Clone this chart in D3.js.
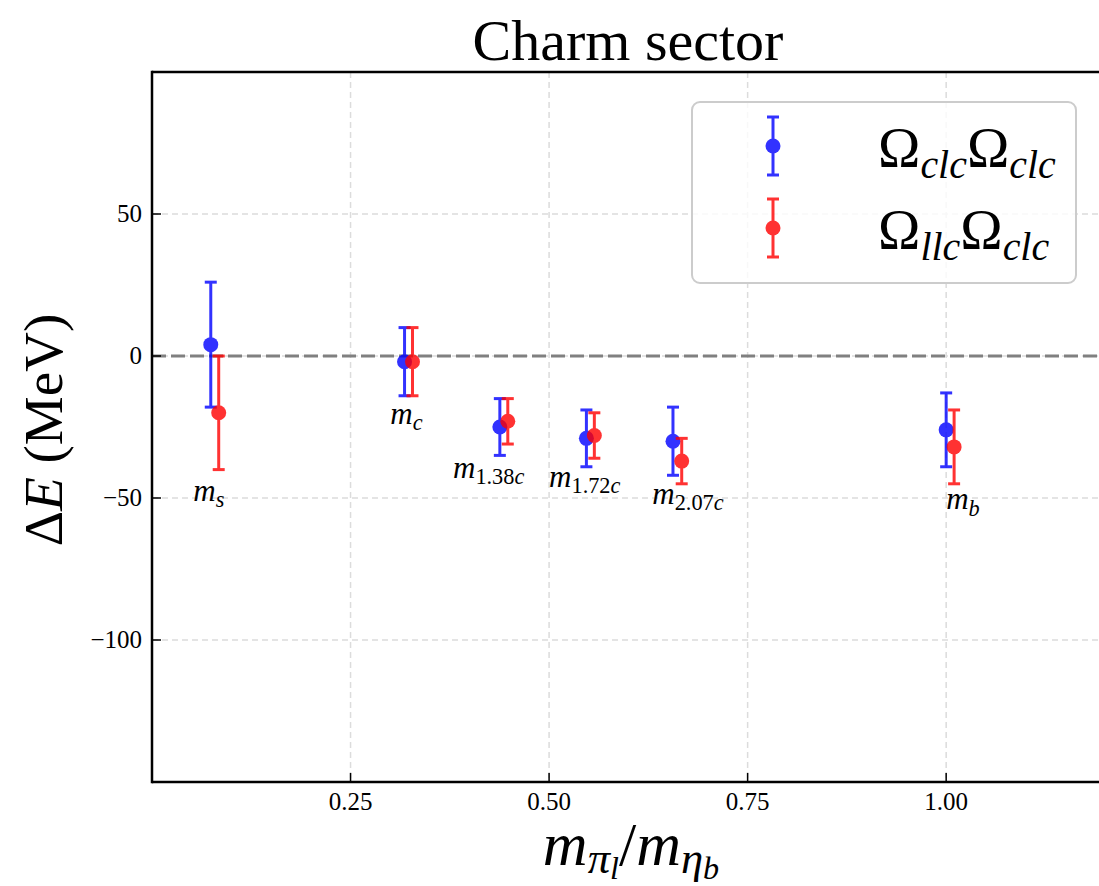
<!DOCTYPE html>
<html>
<head>
<meta charset="utf-8">
<script src="https://cdn.jsdelivr.net/npm/d3@7"></script>
<style>
  body { margin: 0; background: #fff; }
  svg text { font-family: "Liberation Serif", "DejaVu Serif", serif; fill: #000; }
</style>
</head>
<body>
<div id="chart"></div>
<script>
// Quark mass labels: numeric part (upright) and flavour letter (italic).
var massNum = ["", "", "1.38", "1.72", "2.07", ""];
var massFlavour = ["s", "c", "c", "c", "c", "b"];

// Omega_clc Omega_clc series (blue).
var xClc = [0.074, 0.318, 0.438, 0.547, 0.656, 1.000];
var yClc = [4, -2, -25, -29, -30, -26];
var eClc = [22, 12, 10, 10, 12, 13];

// Omega_llc Omega_clc series (red).
var xLlc = [0.084, 0.328, 0.448, 0.557, 0.667, 1.010];
var yLlc = [-20, -2, -23, -28, -37, -32];
var eLlc = [20, 12, 8, 8, 8, 13];

// Annotation anchors in data units.
var labelX = [0.052, 0.300, 0.379, 0.500, 0.630, 1.000];
var labelY = [-51, -24, -43, -46, -52, -54];

// Axis ticks.
var xTicks = [0.25, 0.50, 0.75, 1.00];
var yTicks = [50, 0, -50, -100];

(function() {
    var W = 1099, H = 886;
    var pL = 152, pT = 72, pR = 1105, pB = 782;

    var x = d3.scaleLinear().domain([0, 1.2]).range([pL, pR]);
    var y = d3.scaleLinear().domain([-150, 100]).range([pB, pT]);

    var svg = d3.select("#chart").append("svg")
        .attr("width", W)
        .attr("height", H);

    // Write a run of math-ish text: parts are [text, italic, level].
    var addMath = function(t, parts, size, subScale, drops) {
        var s1 = subScale || 0.7;
        var scale = [1, s1, s1 * 0.72];
        var drop = drops || [0, 0.2, 0.34];
        var cur = 0;
        parts.forEach(function(p) {
            var lvl = p[2] || 0;
            var off = drop[lvl] * size;
            t.append("tspan")
                .attr("dy", off - cur)
                .style("font-size", (size * scale[lvl]) + "px")
                .style("font-style", p[1] ? "italic" : "normal")
                .text(p[0]);
            cur = off;
        });
        return t;
    };

    // Grid.
    var grid = svg.append("g")
        .attr("stroke", "#dcdcdc")
        .attr("stroke-width", 1.5)
        .attr("stroke-dasharray", "6,4");
    grid.selectAll(".gx").data(xTicks).enter().append("line")
        .attr("x1", function(d) { return x(d); })
        .attr("x2", function(d) { return x(d); })
        .attr("y1", pT).attr("y2", pB);
    grid.selectAll(".gy").data(yTicks).enter().append("line")
        .attr("x1", pL).attr("x2", pR)
        .attr("y1", function(d) { return y(d); })
        .attr("y2", function(d) { return y(d); });

    // Zero reference line.
    svg.append("line")
        .attr("x1", pL).attr("x2", pR)
        .attr("y1", y(0)).attr("y2", y(0))
        .attr("stroke", "#808080")
        .attr("stroke-width", 3.2)
        .attr("stroke-dasharray", "14,5");

    // Error bar series.
    var drawSeries = function(xs, ys, es, color) {
        var g = svg.append("g").attr("opacity", 0.8);
        xs.forEach(function(xv, i) {
            var px = x(xv);
            var p = g.append("g");
            p.append("line")
                .attr("x1", px).attr("x2", px)
                .attr("y1", y(ys[i] + es[i])).attr("y2", y(ys[i] - es[i]))
                .attr("stroke", color).attr("stroke-width", 3);
            [ys[i] + es[i], ys[i] - es[i]].forEach(function(v) {
                p.append("line")
                    .attr("x1", px - 6).attr("x2", px + 6)
                    .attr("y1", y(v)).attr("y2", y(v))
                    .attr("stroke", color).attr("stroke-width", 3);
            });
            p.append("circle")
                .attr("cx", px).attr("cy", y(ys[i]))
                .attr("r", 7.5)
                .attr("fill", color);
        });
    };
    drawSeries(xClc, yClc, eClc, "#0000ff");
    drawSeries(xLlc, yLlc, eLlc, "#ff0000");

    // Mass annotations.
    massFlavour.forEach(function(f, i) {
        var t = svg.append("text")
            .attr("x", x(labelX[i]))
            .attr("y", y(labelY[i]));
        var parts = [["m", true, 0]];
        if (massNum[i]) parts.push([massNum[i], false, 1]);
        parts.push([f, true, 1]);
        addMath(t, parts, 31, 0.72);
    });

    // Spines.
    svg.append("line").attr("x1", pL).attr("x2", pL).attr("y1", pT - 1.2).attr("y2", pB + 1.2)
        .attr("stroke", "#000").attr("stroke-width", 2.5);
    svg.append("line").attr("x1", pL).attr("x2", pR).attr("y1", pB).attr("y2", pB)
        .attr("stroke", "#000").attr("stroke-width", 2.5);
    svg.append("line").attr("x1", pL).attr("x2", pR).attr("y1", pT).attr("y2", pT)
        .attr("stroke", "#000").attr("stroke-width", 2.5);

    // Ticks (inward) and tick labels.
    var fmtX = d3.format(".2f");
    xTicks.forEach(function(d) {
        svg.append("line").attr("x1", x(d)).attr("x2", x(d))
            .attr("y1", pB).attr("y2", pB - 9)
            .attr("stroke", "#000").attr("stroke-width", 1.5);
        svg.append("text").attr("x", x(d)).attr("y", pB + 28)
            .attr("text-anchor", "middle").style("font-size", "25px")
            .text(fmtX(d));
    });
    yTicks.forEach(function(d) {
        svg.append("line").attr("x1", pL).attr("x2", pL + 9)
            .attr("y1", y(d)).attr("y2", y(d))
            .attr("stroke", "#000").attr("stroke-width", 1.5);
        svg.append("text").attr("x", pL - 10).attr("y", y(d) + 8)
            .attr("text-anchor", "end").style("font-size", "25px")
            .text(String(d).replace("-", "\u2212"));
    });

    // Title and axis labels.
    svg.append("text").attr("x", 628).attr("y", 60)
        .attr("text-anchor", "middle").style("font-size", "58px")
        .text("Charm sector");

    addMath(svg.append("text")
        .attr("transform", "translate(62,430) rotate(-90)")
        .attr("text-anchor", "middle"),
        [["\u0394", false, 0], ["E", true, 0], [" (MeV)", false, 0]], 55);

    addMath(svg.append("text")
        .attr("x", 631).attr("y", 865)
        .attr("text-anchor", "middle"),
        [["m", true, 0], ["\u03c0", true, 1], ["l", true, 2],
         ["/", false, 0], ["m", true, 0], ["\u03b7", true, 1], ["b", true, 2]], 62, 0.72, [0, 0.13, 0.22]);

    // Legend.
    var legend = svg.append("g");
    legend.append("rect")
        .attr("x", 692).attr("y", 102)
        .attr("width", 384).attr("height", 181)
        .attr("rx", 8).attr("ry", 8)
        .attr("fill", "#fff").attr("fill-opacity", 0.8)
        .attr("stroke", "#cccccc").attr("stroke-width", 2);

    var legendItems = [
        { color: "#0000ff", cy: 146, parts: [["\u03a9", false, 0], ["clc", true, 1], ["\u03a9", false, 0], ["clc", true, 1]] },
        { color: "#ff0000", cy: 228, parts: [["\u03a9", false, 0], ["llc", true, 1], ["\u03a9", false, 0], ["clc", true, 1]] }
    ];
    legendItems.forEach(function(it) {
        var g = legend.append("g").attr("opacity", 0.8);
        g.append("line").attr("x1", 773).attr("x2", 773)
            .attr("y1", it.cy - 29).attr("y2", it.cy + 29)
            .attr("stroke", it.color).attr("stroke-width", 3);
        [it.cy - 29, it.cy + 29].forEach(function(v) {
            g.append("line").attr("x1", 767).attr("x2", 779)
                .attr("y1", v).attr("y2", v)
                .attr("stroke", it.color).attr("stroke-width", 3);
        });
        g.append("circle").attr("cx", 773).attr("cy", it.cy).attr("r", 7.5).attr("fill", it.color);
        addMath(legend.append("text").attr("x", 878).attr("y", it.cy + 21), it.parts, 57);
    });
})();
</script>
</body>
</html>
